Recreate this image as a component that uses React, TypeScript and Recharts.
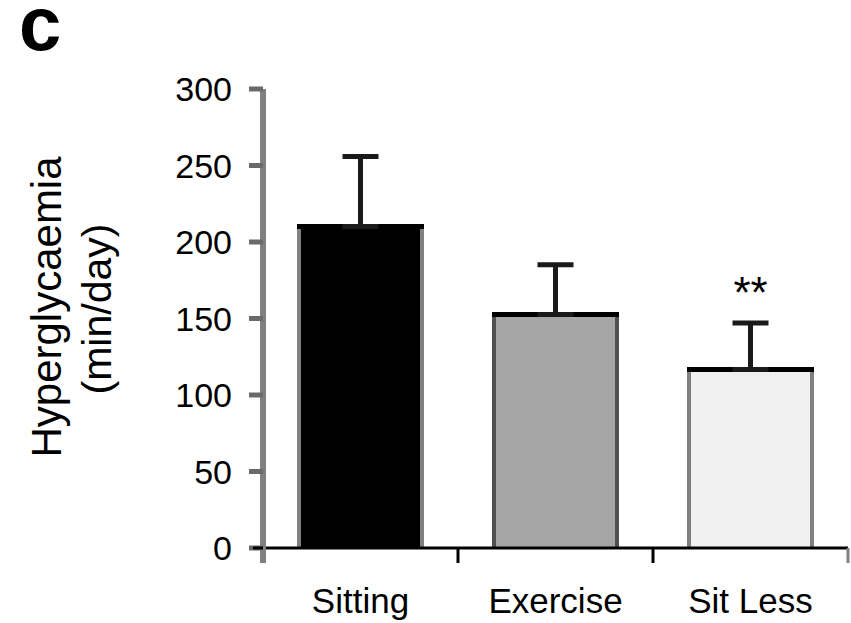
import React from 'react';
import { BarChart, Bar, XAxis, YAxis, ErrorBar, LabelList } from 'recharts';

const categories = ['Sitting', 'Exercise', 'Sit Less'];
const hyperglycaemia = [210.1, 152.6, 116.7];
const sem = [45.8, 32.6, 30.3];
const significance = ['', '', '**'];
const yTicks = [0, 50, 100, 150, 200, 250, 300];

const barFills = ['#000000', '#a6a6a6', '#f0f0f0'];
const barEdges = ['#808080', '#505050', '#808080'];

const FONT = '"Liberation Sans", Arial, Helvetica, sans-serif';

const data = categories.map((name, i) => ({
  name,
  value: hyperglycaemia[i],
  err: [0, sem[i]],
  sig: significance[i],
}));

// bar with grey side edges and a black top edge
const BarShape = (props: any) => {
  const { x, y, width, height, index } = props;
  const sw = 4;
  return (
    <g>
      <rect x={x} y={y} width={width} height={height} fill={barFills[index]} />
      <line x1={x + sw / 2} y1={y} x2={x + sw / 2} y2={y + height} stroke={barEdges[index]} strokeWidth={sw} />
      <line x1={x + width - sw / 2} y1={y} x2={x + width - sw / 2} y2={y + height} stroke={barEdges[index]} strokeWidth={sw} />
      <line x1={x} y1={y} x2={x + width} y2={y} stroke="#000" strokeWidth={5} />
    </g>
  );
};

// category label plus the boundary tick marks below the axis
const XTick = (props: any) => {
  const { x, y, payload, index } = props;
  const half = payload && payload.offset ? payload.offset : 97.5;
  return (
    <g>
      {index === 0 && (
        <>
          <line x1={x - half} y1={y} x2={x - half} y2={y + 15} stroke="#808080" strokeWidth={6} />
          <line x1={x - half - 10} y1={y} x2={x - half} y2={y} stroke="#000" strokeWidth={3} />
        </>
      )}
      <line x1={x + half} y1={y} x2={x + half} y2={y + 15} stroke={index === 2 ? '#808080' : '#000'} strokeWidth={3} />
      <text x={x} y={y + 65} textAnchor="middle" fontSize={35} fontFamily={FONT} fill="#000">
        {payload.value}
      </text>
    </g>
  );
};

const SigLabel = (props: any) => {
  const vb = props.viewBox || props;
  const { x, y, width, height } = vb;
  const index = props.index;
  if (!props.value) return null;
  const pxPerUnit = Math.abs(height) / hyperglycaemia[index];
  const top = y - sem[index] * pxPerUnit;
  return (
    <text x={x + width / 2} y={top - 15} textAnchor="middle" fontSize={44} fontFamily={FONT} fill="#000">
      {props.value}
    </text>
  );
};

export default function App() {
  return (
    <div style={{ position: 'absolute', left: 0, top: 0, width: 851, height: 623, background: '#fff' }}>
      <BarChart
        width={851}
        height={623}
        data={data}
        margin={{ top: 89, right: 3, bottom: 0, left: 0 }}
      >
        <XAxis
          dataKey="name"
          height={75}
          axisLine={{ stroke: '#000', strokeWidth: 3 }}
          tickLine={false}
          tickSize={0}
          tickMargin={0}
          tick={<XTick />}
          interval={0}
        />
        <YAxis
          width={263}
          domain={[0, 300]}
          ticks={yTicks}
          interval={0}
          axisLine={{ stroke: '#808080', strokeWidth: 6 }}
          tickLine={{ stroke: '#6a6a6a', strokeWidth: 5 }}
          tickSize={14}
          tickMargin={17}
          tick={{ fontSize: 34, fill: '#000', fontFamily: FONT }}
        />
        <Bar dataKey="value" barSize={127} shape={<BarShape />} isAnimationActive={false}>
          <ErrorBar dataKey="err" width={18} stroke="#1a1a1a" strokeWidth={5} direction="y" isAnimationActive={false} />
          <LabelList dataKey="sig" content={<SigLabel />} />
        </Bar>
      </BarChart>
      <svg width={851} height={623} style={{ position: 'absolute', left: 0, top: 0, pointerEvents: 'none' }}>
        <text x={19} y={50} fontSize={76} fontWeight="bold" fontFamily={FONT} fill="#000">c</text>
        <text transform="translate(61,307) rotate(-90)" textAnchor="middle" fontSize={42} fontFamily={FONT} fill="#000">
          Hyperglycaemia
        </text>
        <text transform="translate(111,309) rotate(-90)" textAnchor="middle" fontSize={41} fontFamily={FONT} fill="#000">
          (min/day)
        </text>
      </svg>
    </div>
  );
}
